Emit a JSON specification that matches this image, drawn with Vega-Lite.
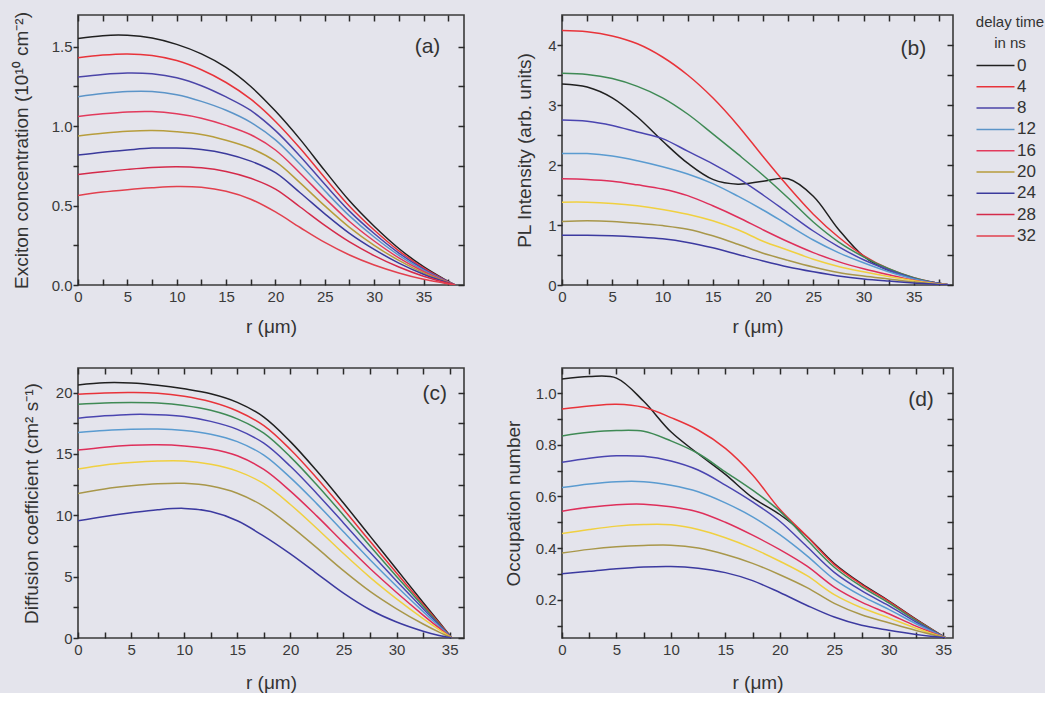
{
"$schema": "https://vega.github.io/schema/vega-lite/v6.json",
"background": "#e4e4ec",
"padding": {"left": 11, "top": 10, "right": 0, "bottom": 0},
"config": {
  "font": "Liberation Sans",
  "view": {"stroke": "#3a3a3a", "strokeWidth": 1.6},
  "axis": {"grid": false, "domain": false, "ticks": true, "tickSize": -6, "tickColor": "#2a2a2a", "tickWidth": 1.5, "tickOpacity": 1, "labelFont": "Liberation Sans", "labelFontSize": 15, "labelColor": "#3a3a3a", "labelPadding": 10, "titleFont": "Liberation Sans", "titleFontSize": 19, "titleFontWeight": "normal", "titleColor": "#333333", "labelBound": false, "labelOverlap": false, "labelFlush": false, "zindex": 2},
  "axisLeft": {"tickSize": 5, "labelPadding": 1}
},
"datasets": {
"a": [
{"r":0,"d0":1.552,"d4":1.431,"d8":1.309,"d12":1.185,"d16":1.061,"d20":0.938,"d24":0.818,"d28":0.696,"d32":0.564},
{"r":2.5,"d0":1.570,"d4":1.448,"d8":1.326,"d12":1.205,"d16":1.078,"d20":0.955,"d24":0.836,"d28":0.713,"d32":0.585},
{"r":5,"d0":1.572,"d4":1.455,"d8":1.335,"d12":1.218,"d16":1.090,"d20":0.968,"d24":0.850,"d28":0.728,"d32":0.600},
{"r":7.5,"d0":1.555,"d4":1.445,"d8":1.330,"d12":1.218,"d16":1.092,"d20":0.973,"d24":0.862,"d28":0.740,"d32":0.612},
{"r":10,"d0":1.515,"d4":1.413,"d8":1.305,"d12":1.198,"d16":1.078,"d20":0.965,"d24":0.862,"d28":0.745,"d32":0.620},
{"r":12.5,"d0":1.455,"d4":1.355,"d8":1.255,"d12":1.156,"d16":1.050,"d20":0.948,"d24":0.853,"d28":0.738,"d32":0.615},
{"r":15,"d0":1.370,"d4":1.275,"d8":1.184,"d12":1.100,"d16":1.005,"d20":0.912,"d24":0.827,"d28":0.715,"d32":0.590},
{"r":17.5,"d0":1.250,"d4":1.170,"d8":1.099,"d12":1.024,"d16":0.946,"d20":0.861,"d24":0.780,"d28":0.672,"d32":0.540},
{"r":20,"d0":1.095,"d4":1.030,"d8":0.972,"d12":0.914,"d16":0.850,"d20":0.778,"d24":0.707,"d28":0.604,"d32":0.460},
{"r":22.5,"d0":0.917,"d4":0.861,"d8":0.811,"d12":0.760,"d16":0.704,"d20":0.643,"d24":0.581,"d28":0.491,"d32":0.362},
{"r":25,"d0":0.720,"d4":0.675,"d8":0.634,"d12":0.593,"d16":0.547,"d20":0.498,"d24":0.448,"d28":0.375,"d32":0.268},
{"r":27.5,"d0":0.530,"d4":0.496,"d8":0.465,"d12":0.435,"d16":0.400,"d20":0.363,"d24":0.325,"d28":0.271,"d32":0.189},
{"r":30,"d0":0.370,"d4":0.346,"d8":0.324,"d12":0.302,"d16":0.277,"d20":0.250,"d24":0.224,"d28":0.185,"d32":0.126},
{"r":32.5,"d0":0.230,"d4":0.215,"d8":0.201,"d12":0.187,"d16":0.171,"d20":0.155,"d24":0.138,"d28":0.113,"d32":0.076},
{"r":35,"d0":0.115,"d4":0.107,"d8":0.100,"d12":0.093,"d16":0.085,"d20":0.076,"d24":0.068,"d28":0.055,"d32":0.036},
{"r":37,"d0":0.040,"d4":0.037,"d8":0.035,"d12":0.032,"d16":0.030,"d20":0.027,"d24":0.024,"d28":0.019,"d32":0.013},
{"r":38.2,"d0":0,"d4":0,"d8":0,"d12":0,"d16":0,"d20":0,"d24":0,"d28":0,"d32":0}
],
"b": [
{"r":0,"e0":3.35,"e4":4.24,"e8":3.53,"e12":2.75,"e16":2.19,"e20":1.77,"e24":1.38,"e28":1.06,"e32":0.83},
{"r":2.5,"e0":3.30,"e4":4.22,"e8":3.51,"e12":2.73,"e16":2.19,"e20":1.76,"e24":1.38,"e28":1.07,"e32":0.83},
{"r":5,"e0":3.12,"e4":4.15,"e8":3.44,"e12":2.66,"e16":2.15,"e20":1.73,"e24":1.36,"e28":1.06,"e32":0.82},
{"r":7.5,"e0":2.80,"e4":4.02,"e8":3.31,"e12":2.55,"e16":2.07,"e20":1.67,"e24":1.32,"e28":1.03,"e32":0.80},
{"r":10,"e0":2.40,"e4":3.80,"e8":3.12,"e12":2.44,"e16":1.97,"e20":1.60,"e24":1.26,"e28":0.99,"e32":0.77},
{"r":12.5,"e0":2.03,"e4":3.50,"e8":2.85,"e12":2.23,"e16":1.85,"e20":1.49,"e24":1.18,"e28":0.93,"e32":0.71},
{"r":15,"e0":1.76,"e4":3.12,"e8":2.52,"e12":2.02,"e16":1.69,"e20":1.32,"e24":1.07,"e28":0.82,"e32":0.62},
{"r":17.5,"e0":1.68,"e4":2.66,"e8":2.18,"e12":1.78,"e16":1.48,"e20":1.13,"e24":0.92,"e28":0.68,"e32":0.51},
{"r":20,"e0":1.73,"e4":2.14,"e8":1.83,"e12":1.50,"e16":1.25,"e20":0.92,"e24":0.73,"e28":0.53,"e32":0.40},
{"r":22.5,"e0":1.77,"e4":1.64,"e8":1.45,"e12":1.20,"e16":1.00,"e20":0.72,"e24":0.58,"e28":0.41,"e32":0.30},
{"r":25,"e0":1.48,"e4":1.18,"e8":1.05,"e12":0.90,"e16":0.75,"e20":0.54,"e24":0.43,"e28":0.30,"e32":0.22},
{"r":27.5,"e0":0.93,"e4":0.80,"e8":0.72,"e12":0.64,"e16":0.54,"e20":0.39,"e24":0.31,"e28":0.21,"e32":0.15},
{"r":30,"e0":0.48,"e4":0.49,"e8":0.47,"e12":0.42,"e16":0.37,"e20":0.27,"e24":0.22,"e28":0.15,"e32":0.10},
{"r":32.5,"e0":0.24,"e4":0.27,"e8":0.27,"e12":0.25,"e16":0.22,"e20":0.17,"e24":0.14,"e28":0.10,"e32":0.065},
{"r":35,"e0":0.11,"e4":0.12,"e8":0.12,"e12":0.11,"e16":0.10,"e20":0.08,"e24":0.07,"e28":0.05,"e32":0.035},
{"r":37,"e0":0.04,"e4":0.04,"e8":0.04,"e12":0.04,"e16":0.035,"e20":0.03,"e24":0.025,"e28":0.02,"e32":0.012},
{"r":38.6,"e0":0,"e4":0,"e8":0,"e12":0,"e16":0,"e20":0,"e24":0,"e28":0,"e32":0}
],
"c": [
{"r":0,"e0":20.62,"e4":19.86,"e8":19.05,"e12":17.91,"e16":16.74,"e20":15.31,"e24":13.76,"e28":11.78,"e32":9.55},
{"r":2.5,"e0":20.80,"e4":19.97,"e8":19.15,"e12":18.10,"e16":16.90,"e20":15.55,"e24":14.10,"e28":12.15,"e32":9.90},
{"r":5,"e0":20.78,"e4":20.00,"e8":19.19,"e12":18.22,"e16":17.00,"e20":15.70,"e24":14.30,"e28":12.40,"e32":10.20},
{"r":7.5,"e0":20.60,"e4":19.95,"e8":19.15,"e12":18.20,"e16":17.02,"e20":15.74,"e24":14.42,"e28":12.57,"e32":10.45},
{"r":10,"e0":20.30,"e4":19.70,"e8":18.95,"e12":18.05,"e16":16.90,"e20":15.65,"e24":14.42,"e28":12.60,"e32":10.56},
{"r":12.5,"e0":19.90,"e4":19.25,"e8":18.55,"e12":17.65,"e16":16.60,"e20":15.40,"e24":14.15,"e28":12.38,"e32":10.30},
{"r":15,"e0":19.20,"e4":18.50,"e8":17.85,"e12":17.00,"e16":16.00,"e20":14.85,"e24":13.60,"e28":11.80,"e32":9.55},
{"r":17.5,"e0":18.00,"e4":17.30,"e8":16.69,"e12":15.87,"e16":14.90,"e20":13.73,"e24":12.57,"e28":10.73,"e32":8.30},
{"r":20,"e0":16.00,"e4":15.36,"e8":14.76,"e12":13.99,"e16":13.07,"e20":11.97,"e24":10.88,"e28":9.14,"e32":6.85},
{"r":22.5,"e0":13.60,"e4":13.02,"e8":12.47,"e12":11.76,"e16":10.93,"e20":9.93,"e24":8.92,"e28":7.34,"e32":5.25},
{"r":25,"e0":11.00,"e4":10.49,"e8":10.01,"e12":9.38,"e16":8.65,"e20":7.77,"e24":6.88,"e28":5.49,"e32":3.65},
{"r":27.5,"e0":8.30,"e4":7.88,"e8":7.49,"e12":6.98,"e16":6.38,"e20":5.66,"e24":4.94,"e28":3.80,"e32":2.30},
{"r":30,"e0":5.60,"e4":5.30,"e8":5.02,"e12":4.65,"e16":4.22,"e20":3.71,"e24":3.19,"e28":2.38,"e32":1.30},
{"r":32.5,"e0":2.90,"e4":2.74,"e8":2.58,"e12":2.38,"e16":2.15,"e20":1.87,"e24":1.58,"e28":1.14,"e32":0.55},
{"r":34,"e0":1.30,"e4":1.22,"e8":1.15,"e12":1.06,"e16":0.95,"e20":0.82,"e24":0.68,"e28":0.48,"e32":0.20},
{"r":35.2,"e0":0,"e4":0,"e8":0,"e12":0,"e16":0,"e20":0,"e24":0,"e28":0,"e32":0}
],
"d": [
{"r":0,"e0":1.054,"e4":0.938,"e8":0.834,"e12":0.732,"e16":0.634,"e20":0.543,"e24":0.456,"e28":0.381,"e32":0.301},
{"r":2.5,"e0":1.064,"e4":0.950,"e8":0.848,"e12":0.748,"e16":0.648,"e20":0.558,"e24":0.472,"e28":0.395,"e32":0.310},
{"r":5,"e0":1.058,"e4":0.957,"e8":0.855,"e12":0.757,"e16":0.657,"e20":0.568,"e24":0.485,"e28":0.405,"e32":0.320},
{"r":7.5,"e0":0.968,"e4":0.945,"e8":0.852,"e12":0.755,"e16":0.657,"e20":0.570,"e24":0.491,"e28":0.410,"e32":0.327},
{"r":10,"e0":0.850,"e4":0.905,"e8":0.815,"e12":0.737,"e16":0.643,"e20":0.560,"e24":0.490,"e28":0.411,"e32":0.329},
{"r":12.5,"e0":0.765,"e4":0.857,"e8":0.766,"e12":0.702,"e16":0.618,"e20":0.540,"e24":0.472,"e28":0.400,"e32":0.322},
{"r":15,"e0":0.685,"e4":0.786,"e8":0.695,"e12":0.644,"e16":0.575,"e20":0.500,"e24":0.440,"e28":0.375,"e32":0.305},
{"r":17.5,"e0":0.595,"e4":0.683,"e8":0.624,"e12":0.579,"e16":0.521,"e20":0.450,"e24":0.399,"e28":0.341,"e32":0.274},
{"r":20,"e0":0.530,"e4":0.550,"e8":0.543,"e12":0.504,"e16":0.452,"e20":0.394,"e24":0.349,"e28":0.297,"e32":0.228},
{"r":22.5,"e0":0.445,"e4":0.445,"e8":0.432,"e12":0.405,"e16":0.370,"e20":0.330,"e24":0.293,"e28":0.247,"e32":0.178},
{"r":25,"e0":0.340,"e4":0.336,"e8":0.326,"e12":0.306,"e16":0.279,"e20":0.249,"e24":0.220,"e28":0.186,"e32":0.133},
{"r":27.5,"e0":0.262,"e4":0.259,"e8":0.251,"e12":0.235,"e16":0.215,"e20":0.191,"e24":0.169,"e28":0.142,"e32":0.101},
{"r":30,"e0":0.196,"e4":0.194,"e8":0.188,"e12":0.177,"e16":0.163,"e20":0.146,"e24":0.130,"e28":0.111,"e32":0.082},
{"r":32.5,"e0":0.125,"e4":0.123,"e8":0.120,"e12":0.114,"e16":0.107,"e20":0.098,"e24":0.090,"e28":0.081,"e32":0.066},
{"r":35.2,"e0":0.053,"e4":0.053,"e8":0.053,"e12":0.053,"e16":0.053,"e20":0.053,"e24":0.053,"e28":0.053,"e32":0.053}
]
},
"concat": [
{
 "width": 386, "height": 270,
 "layer": [
  {"data": {"name": "a"},
   "transform": [{"fold": ["d0","d4","d8","d12","d16","d20","d24","d28","d32"], "as": ["series","v"]}],
   "mark": {"type": "line", "interpolate": "catmull-rom", "strokeWidth": 1.5, "clip": true},
   "encoding": {
     "x": {"field": "r", "type": "quantitative", "scale": {"domain": [0, 39.1], "nice": false, "zero": false},
           "axis": {"orient": "bottom", "title": "r (μm)", "titlePadding": 13, "values": [0,2.5,5,7.5,10,12.5,15,17.5,20,22.5,25,27.5,30,32.5,35,37.5], "labelExpr": "datum.value % 5 === 0 ? datum.label : ''"}},
     "y": {"field": "v", "type": "quantitative", "scale": {"domain": [0, 1.7], "nice": false, "zero": false},
           "axis": {"orient": "left", "title": "Exciton concentration (10¹⁰ cm⁻²)", "titlePadding": 20, "values": [0,0.25,0.5,0.75,1,1.25,1.5], "labelExpr": "abs(datum.value*2 - round(datum.value*2)) < 0.000001 ? format(datum.value, '.1f') : ''"}},
     "color": {"field": "series", "type": "nominal",
       "scale": {"domain": ["d0","d4","d8","d12","d16","d20","d24","d28","d32","e0","e4","e8","e12","e16","e20","e24","e28","e32"],
                 "range": ["#202020","#e8333a","#4b45a8","#5b94c8","#e23a5c","#b79d3c","#3b3a9c","#d42a4a","#e2404e","#202020","#e8333a","#3f8a55","#4a45b0","#5a9bd0","#de2f5a","#f0d040","#a8974a","#3c3aa0"]},
       "legend": {"orient": "none", "legendX": 898, "legendY": 0, "title": ["delay time", "in ns"], "titleFontSize": 15, "titleFontWeight": "normal", "titleColor": "#333333", "titleAnchor": "middle", "titleAlign": "center", "titleLineHeight": 21, "titlePadding": 4,
                  "values": ["d0","d4","d8","d12","d16","d20","d24","d28","d32"], "labelExpr": "replace(datum.label, 'd', '')",
                  "labelFontSize": 17, "labelColor": "#333333", "symbolType": "M-2,0H2", "symbolSize": 361, "symbolStrokeWidth": 1.5, "labelOffset": 11, "rowPadding": 2.3}}
   }
  },
  {"data": {"values": [{}]},
   "mark": {"type": "text", "text": "(a)", "fontSize": 21, "color": "#333333"},
   "encoding": {
     "x": {"datum": 35.4, "type": "quantitative", "scale": {"domain": [0, 39.1], "nice": false, "zero": false},
           "axis": {"orient": "top", "labels": false, "title": null, "values": [0,2.5,5,7.5,10,12.5,15,17.5,20,22.5,25,27.5,30,32.5,35,37.5]}},
     "y": {"datum": 1.5, "type": "quantitative", "scale": {"domain": [0, 1.7], "nice": false, "zero": false},
           "axis": {"orient": "right", "labels": false, "title": null, "values": [0,0.25,0.5,0.75,1,1.25,1.5]}}
   }
  }
 ],
 "resolve": {"axis": {"x": "independent", "y": "independent"}}
},
{
 "width": 391, "height": 270,
 "layer": [
  {"data": {"name": "b"},
   "transform": [{"fold": ["e0","e4","e8","e12","e16","e20","e24","e28","e32"], "as": ["series","v"]}],
   "mark": {"type": "line", "interpolate": "catmull-rom", "strokeWidth": 1.5, "clip": true},
   "encoding": {
     "x": {"field": "r", "type": "quantitative", "scale": {"domain": [0, 38.9], "nice": false, "zero": false},
           "axis": {"orient": "bottom", "title": "r (μm)", "titlePadding": 13, "values": [0,2.5,5,7.5,10,12.5,15,17.5,20,22.5,25,27.5,30,32.5,35,37.5], "labelExpr": "datum.value % 5 === 0 ? datum.label : ''"}},
     "y": {"field": "v", "type": "quantitative", "scale": {"domain": [0, 4.5], "nice": false, "zero": false},
           "axis": {"orient": "left", "title": "PL Intensity (arb. units)", "titlePadding": 13, "values": [0,0.5,1,1.5,2,2.5,3,3.5,4], "labelExpr": "datum.value % 1 === 0 ? format(datum.value, 'd') : ''"}},
     "color": {"field": "series", "type": "nominal",
       "scale": {"domain": ["d0","d4","d8","d12","d16","d20","d24","d28","d32","e0","e4","e8","e12","e16","e20","e24","e28","e32"],
                 "range": ["#202020","#e8333a","#4b45a8","#5b94c8","#e23a5c","#b79d3c","#3b3a9c","#d42a4a","#e2404e","#202020","#e8333a","#3f8a55","#4a45b0","#5a9bd0","#de2f5a","#f0d040","#a8974a","#3c3aa0"]},
       "legend": {"orient": "none", "legendX": 898, "legendY": 0, "title": ["delay time", "in ns"], "titleFontSize": 15, "titleFontWeight": "normal", "titleColor": "#333333", "titleAnchor": "middle", "titleAlign": "center", "titleLineHeight": 21, "titlePadding": 4,
                  "values": ["d0","d4","d8","d12","d16","d20","d24","d28","d32"], "labelExpr": "replace(datum.label, 'd', '')",
                  "labelFontSize": 17, "labelColor": "#333333", "symbolType": "M-2,0H2", "symbolSize": 361, "symbolStrokeWidth": 1.5, "labelOffset": 11, "rowPadding": 2.3}}
   }
  },
  {"data": {"values": [{}]},
   "mark": {"type": "text", "text": "(b)", "fontSize": 21, "color": "#333333"},
   "encoding": {
     "x": {"datum": 34.95, "type": "quantitative", "scale": {"domain": [0, 38.9], "nice": false, "zero": false},
           "axis": {"orient": "top", "labels": false, "title": null, "values": [0,2.5,5,7.5,10,12.5,15,17.5,20,22.5,25,27.5,30,32.5,35,37.5]}},
     "y": {"datum": 3.93, "type": "quantitative", "scale": {"domain": [0, 4.5], "nice": false, "zero": false},
           "axis": {"orient": "right", "labels": false, "title": null, "values": [0,0.5,1,1.5,2,2.5,3,3.5,4]}}
   }
  }
 ],
 "resolve": {"axis": {"x": "independent", "y": "independent"}}
},
{
 "width": 386, "height": 270,
 "layer": [
  {"data": {"name": "c"},
   "transform": [{"fold": ["e0","e4","e8","e12","e16","e20","e24","e28","e32"], "as": ["series","v"]}],
   "mark": {"type": "line", "interpolate": "catmull-rom", "strokeWidth": 1.5, "clip": true},
   "encoding": {
     "x": {"field": "r", "type": "quantitative", "scale": {"domain": [0, 36.35], "nice": false, "zero": false},
           "axis": {"orient": "bottom", "title": "r (μm)", "titlePadding": 16, "values": [0,2.5,5,7.5,10,12.5,15,17.5,20,22.5,25,27.5,30,32.5,35], "labelExpr": "datum.value % 5 === 0 ? datum.label : ''"}},
     "y": {"field": "v", "type": "quantitative", "scale": {"domain": [0, 22], "nice": false, "zero": false},
           "axis": {"orient": "left", "title": "Diffusion coefficient (cm² s⁻¹)", "titlePadding": 14, "values": [0,2.5,5,7.5,10,12.5,15,17.5,20], "labelExpr": "datum.value % 5 === 0 ? datum.label : ''"}},
     "color": {"field": "series", "type": "nominal",
       "scale": {"domain": ["d0","d4","d8","d12","d16","d20","d24","d28","d32","e0","e4","e8","e12","e16","e20","e24","e28","e32"],
                 "range": ["#202020","#e8333a","#4b45a8","#5b94c8","#e23a5c","#b79d3c","#3b3a9c","#d42a4a","#e2404e","#202020","#e8333a","#3f8a55","#4a45b0","#5a9bd0","#de2f5a","#f0d040","#a8974a","#3c3aa0"]},
       "legend": {"orient": "none", "legendX": 898, "legendY": 0, "title": ["delay time", "in ns"], "titleFontSize": 15, "titleFontWeight": "normal", "titleColor": "#333333", "titleAnchor": "middle", "titleAlign": "center", "titleLineHeight": 21, "titlePadding": 4,
                  "values": ["d0","d4","d8","d12","d16","d20","d24","d28","d32"], "labelExpr": "replace(datum.label, 'd', '')",
                  "labelFontSize": 17, "labelColor": "#333333", "symbolType": "M-2,0H2", "symbolSize": 361, "symbolStrokeWidth": 1.5, "labelOffset": 11, "rowPadding": 2.3}}
   }
  },
  {"data": {"values": [{}]},
   "mark": {"type": "text", "text": "(c)", "fontSize": 21, "color": "#333333"},
   "encoding": {
     "x": {"datum": 33.6, "type": "quantitative", "scale": {"domain": [0, 36.35], "nice": false, "zero": false},
           "axis": {"orient": "top", "labels": false, "title": null, "values": [0,2.5,5,7.5,10,12.5,15,17.5,20,22.5,25,27.5,30,32.5,35]}},
     "y": {"datum": 19.85, "type": "quantitative", "scale": {"domain": [0, 22], "nice": false, "zero": false},
           "axis": {"orient": "right", "labels": false, "title": null, "values": [0,2.5,5,7.5,10,12.5,15,17.5,20]}}
   }
  }
 ],
 "resolve": {"axis": {"x": "independent", "y": "independent"}}
},
{
 "width": 391, "height": 270,
 "layer": [
  {"data": {"name": "d"},
   "transform": [{"fold": ["e0","e4","e8","e12","e16","e20","e24","e28","e32"], "as": ["series","v"]}],
   "mark": {"type": "line", "interpolate": "catmull-rom", "strokeWidth": 1.5, "clip": true},
   "encoding": {
     "x": {"field": "r", "type": "quantitative", "scale": {"domain": [0, 35.9], "nice": false, "zero": false},
           "axis": {"orient": "bottom", "title": "r (μm)", "titlePadding": 16, "values": [0,2.5,5,7.5,10,12.5,15,17.5,20,22.5,25,27.5,30,32.5,35], "labelExpr": "datum.value % 5 === 0 ? datum.label : ''"}},
     "y": {"field": "v", "type": "quantitative", "scale": {"domain": [0.052, 1.097], "nice": false, "zero": false},
           "axis": {"orient": "left", "title": "Occupation number", "titlePadding": 12, "values": [0.1,0.2,0.3,0.4,0.5,0.6,0.7,0.8,0.9,1.0], "labelExpr": "round(datum.value*10) % 2 === 0 ? format(datum.value, '.1f') : ''"}},
     "color": {"field": "series", "type": "nominal",
       "scale": {"domain": ["d0","d4","d8","d12","d16","d20","d24","d28","d32","e0","e4","e8","e12","e16","e20","e24","e28","e32"],
                 "range": ["#202020","#e8333a","#4b45a8","#5b94c8","#e23a5c","#b79d3c","#3b3a9c","#d42a4a","#e2404e","#202020","#e8333a","#3f8a55","#4a45b0","#5a9bd0","#de2f5a","#f0d040","#a8974a","#3c3aa0"]},
       "legend": {"orient": "none", "legendX": 898, "legendY": 0, "title": ["delay time", "in ns"], "titleFontSize": 15, "titleFontWeight": "normal", "titleColor": "#333333", "titleAnchor": "middle", "titleAlign": "center", "titleLineHeight": 21, "titlePadding": 4,
                  "values": ["d0","d4","d8","d12","d16","d20","d24","d28","d32"], "labelExpr": "replace(datum.label, 'd', '')",
                  "labelFontSize": 17, "labelColor": "#333333", "symbolType": "M-2,0H2", "symbolSize": 361, "symbolStrokeWidth": 1.5, "labelOffset": 11, "rowPadding": 2.3}}
   }
  },
  {"data": {"values": [{}]},
   "mark": {"type": "text", "text": "(d)", "fontSize": 21, "color": "#333333"},
   "encoding": {
     "x": {"datum": 32.96, "type": "quantitative", "scale": {"domain": [0, 35.9], "nice": false, "zero": false},
           "axis": {"orient": "top", "labels": false, "title": null, "values": [0,2.5,5,7.5,10,12.5,15,17.5,20,22.5,25,27.5,30,32.5,35]}},
     "y": {"datum": 0.973, "type": "quantitative", "scale": {"domain": [0.052, 1.097], "nice": false, "zero": false},
           "axis": {"orient": "right", "labels": false, "title": null, "values": [0.1,0.2,0.3,0.4,0.5,0.6,0.7,0.8,0.9,1.0]}}
   }
  }
 ],
 "resolve": {"axis": {"x": "independent", "y": "independent"}}
}
],
"columns": 2,
"spacing": {"row": 83, "column": 98},
"bounds": "flush"
}
